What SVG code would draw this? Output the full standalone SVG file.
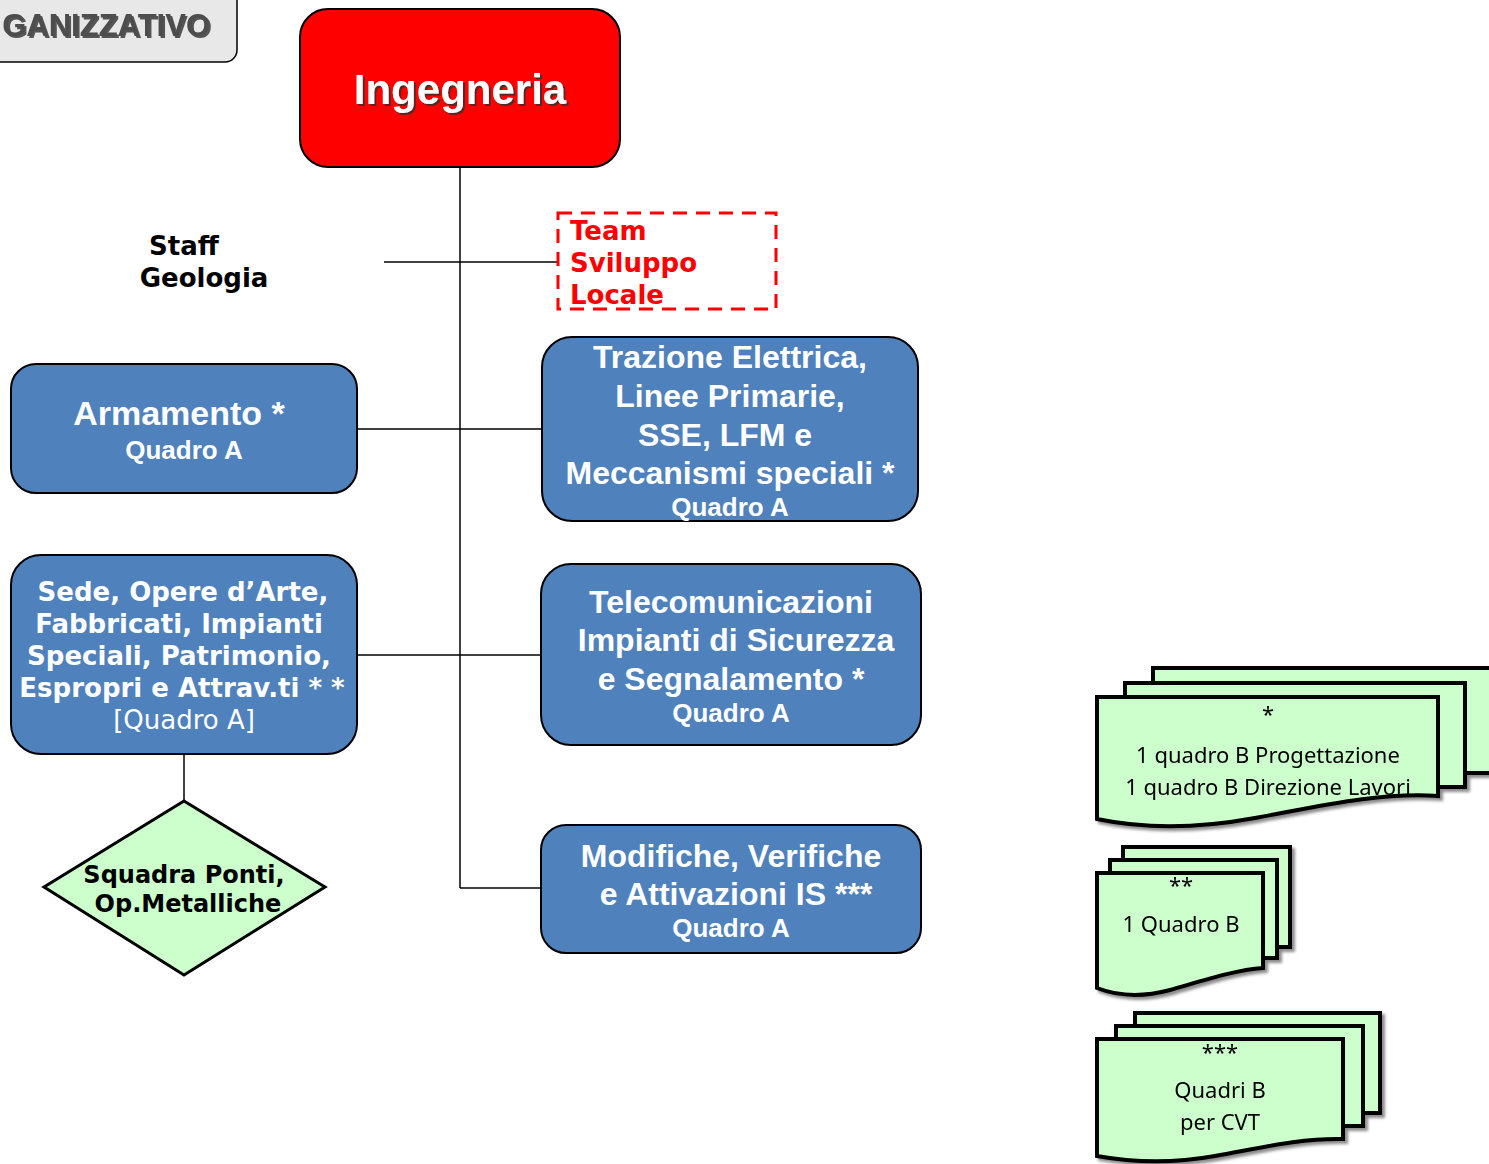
<svg xmlns="http://www.w3.org/2000/svg" width="1489" height="1164" viewBox="0 0 1489 1164">
<defs>
<filter id="tsh" x="-10%" y="-10%" width="130%" height="140%"><feDropShadow dx="2" dy="2" stdDeviation="0.6" flood-color="#333" flood-opacity="0.8"/></filter>
<filter id="dsh" x="-5%" y="-5%" width="115%" height="120%"><feDropShadow dx="3" dy="3" stdDeviation="1.5" flood-color="#000" flood-opacity="0.45"/></filter>
</defs>
<style>
.box{fill:#4f81bd;stroke:#000;stroke-width:2}
.wt{fill:#fff;font-family:"Liberation Sans",Arial,sans-serif;font-weight:bold;text-anchor:middle}
.vt{font-family:"DejaVu Sans",Verdana,sans-serif;font-weight:bold;text-anchor:middle}
.ln{stroke:#000;stroke-width:1.5;fill:none}
.doc{fill:#ccffcc;stroke:#000;stroke-width:4;stroke-linejoin:miter}
.dt{font-family:"Noto Sans","Open Sans",sans-serif;font-size:22px;fill:#000;text-anchor:middle}
</style>
<rect width="1489" height="1164" fill="#fff"/>

<g id="connectors">
<line class="ln" x1="460" y1="167" x2="460" y2="888"/>
<line class="ln" x1="384" y1="262" x2="558" y2="262"/>
<line class="ln" x1="357" y1="429" x2="543" y2="429"/>
<line class="ln" x1="357" y1="655" x2="541" y2="655"/>
<line class="ln" x1="460" y1="888" x2="541" y2="888"/>
<line class="ln" x1="184" y1="754" x2="184" y2="801"/>
</g>

<g id="title">
<rect x="-20" y="-20" width="257" height="82" rx="12" fill="#e8e8e8" stroke="#000" stroke-width="1.5"/>
<text x="210" y="36" text-anchor="end" font-family="Liberation Sans,Arial,sans-serif" font-weight="bold" font-size="31" fill="#4d4d4d" filter="url(#tsh)">GANIZZATIVO</text>
</g>

<g id="ingegneria">
<rect x="300" y="9" width="320" height="158" rx="28" fill="#ff0000" stroke="#000" stroke-width="2"/>
<text class="wt" x="460" y="104" font-size="42" filter="url(#tsh)">Ingegneria</text>
</g>

<g id="staff">
<text class="vt" x="184" y="255" font-size="26" fill="#000">Staff</text>
<text class="vt" x="204" y="287" font-size="26" fill="#000">Geologia</text>
</g>

<g id="team">
<rect x="558" y="213" width="218" height="96" fill="none" stroke="#ff0000" stroke-width="3" stroke-dasharray="14,9"/>
<text x="570" y="240" font-family="DejaVu Sans,Verdana,sans-serif" font-weight="bold" font-size="26" fill="#ff0000">Team</text>
<text x="570" y="272" font-family="DejaVu Sans,Verdana,sans-serif" font-weight="bold" font-size="26" fill="#ff0000">Sviluppo</text>
<text x="570" y="304" font-family="DejaVu Sans,Verdana,sans-serif" font-weight="bold" font-size="26" fill="#ff0000">Locale</text>
</g>

<g id="armamento">
<rect class="box" x="11" y="364" width="346" height="129" rx="25"/>
<text class="wt" x="179" y="425" font-size="34">Armamento *</text>
<text class="wt" x="184" y="459" font-size="26">Quadro A</text>
</g>

<g id="trazione">
<rect class="box" x="542" y="337" width="376" height="184" rx="30"/>
<text class="wt" x="730" y="368" font-size="32">Trazione Elettrica,</text>
<text class="wt" x="730" y="407" font-size="32">Linee Primarie,</text>
<text class="wt" x="725" y="446" font-size="32">SSE, LFM e</text>
<text class="wt" x="730" y="484" font-size="32">Meccanismi speciali *</text>
<text class="wt" x="730" y="516" font-size="26">Quadro A</text>
</g>

<g id="sede">
<rect class="box" x="11" y="555" width="346" height="199" rx="30"/>
<text class="vt" x="183" y="601" font-size="26" fill="#fff">Sede, Opere d’Arte,</text>
<text class="vt" x="179" y="633" font-size="26" fill="#fff">Fabbricati, Impianti</text>
<text class="vt" x="179" y="665" font-size="26" fill="#fff">Speciali, Patrimonio,</text>
<text class="vt" x="182" y="697" font-size="26" fill="#fff">Espropri e Attrav.ti * *</text>
<text x="184" y="729" font-family="DejaVu Sans,Verdana,sans-serif" font-size="26" fill="#fff" text-anchor="middle">[Quadro A]</text>
</g>

<g id="squadra">
<polygon points="184,801 325,887 184,975 44,887" fill="#ccffcc" stroke="#000" stroke-width="3"/>
<text class="vt" x="184" y="883" font-size="24" fill="#000">Squadra Ponti,</text>
<text class="vt" x="188" y="912" font-size="24" fill="#000">Op.Metalliche</text>
</g>

<g id="telecom">
<rect class="box" x="541" y="564" width="380" height="181" rx="30"/>
<text class="wt" x="731" y="613" font-size="32">Telecomunicazioni</text>
<text class="wt" x="736" y="651" font-size="32">Impianti di Sicurezza</text>
<text class="wt" x="731" y="690" font-size="32">e Segnalamento *</text>
<text class="wt" x="731" y="722" font-size="26">Quadro A</text>
</g>

<g id="modifiche">
<rect class="box" x="541" y="825" width="380" height="128" rx="25"/>
<text class="wt" x="731" y="867" font-size="32">Modifiche, Verifiche</text>
<text class="wt" x="736" y="905" font-size="32">e Attivazioni IS ***</text>
<text class="wt" x="731" y="937" font-size="26">Quadro A</text>
</g>

<g id="note1" filter="url(#dsh)">
<path class="doc" d="M1153,668 H1495 V773 H1153 Z"/>
<path class="doc" d="M1125,683 H1465 V787 H1125 Z"/>
<path class="doc" d="M1097,697 H1438 V796 C1380,792 1320,806 1255,818 C1190,830 1140,828 1097,819 Z"/>
<text class="dt" x="1268" y="722">*</text>
<text class="dt" x="1268" y="763">1 quadro B Progettazione</text>
<text class="dt" x="1268" y="795">1 quadro B Direzione Lavori</text>
</g>

<g id="note2" filter="url(#dsh)">
<path class="doc" d="M1123,847 H1290 V947 H1123 Z"/>
<path class="doc" d="M1110,860 H1277 V958 H1110 Z"/>
<path class="doc" d="M1097,873 H1263 V968 C1235,970 1205,980 1170,990 C1140,998 1115,995 1097,988 Z"/>
<text class="dt" x="1181" y="893">**</text>
<text class="dt" x="1181" y="932">1 Quadro B</text>
</g>

<g id="note3" filter="url(#dsh)">
<path class="doc" d="M1135,1013 H1380 V1113 H1135 Z"/>
<path class="doc" d="M1116,1026 H1363 V1126 H1116 Z"/>
<path class="doc" d="M1097,1039 H1343 V1139 C1300,1138 1260,1148 1215,1156 C1170,1164 1130,1162 1097,1156 Z"/>
<text class="dt" x="1220" y="1060">***</text>
<text class="dt" x="1220" y="1098">Quadri B</text>
<text class="dt" x="1220" y="1130">per CVT</text>
</g>
</svg>
